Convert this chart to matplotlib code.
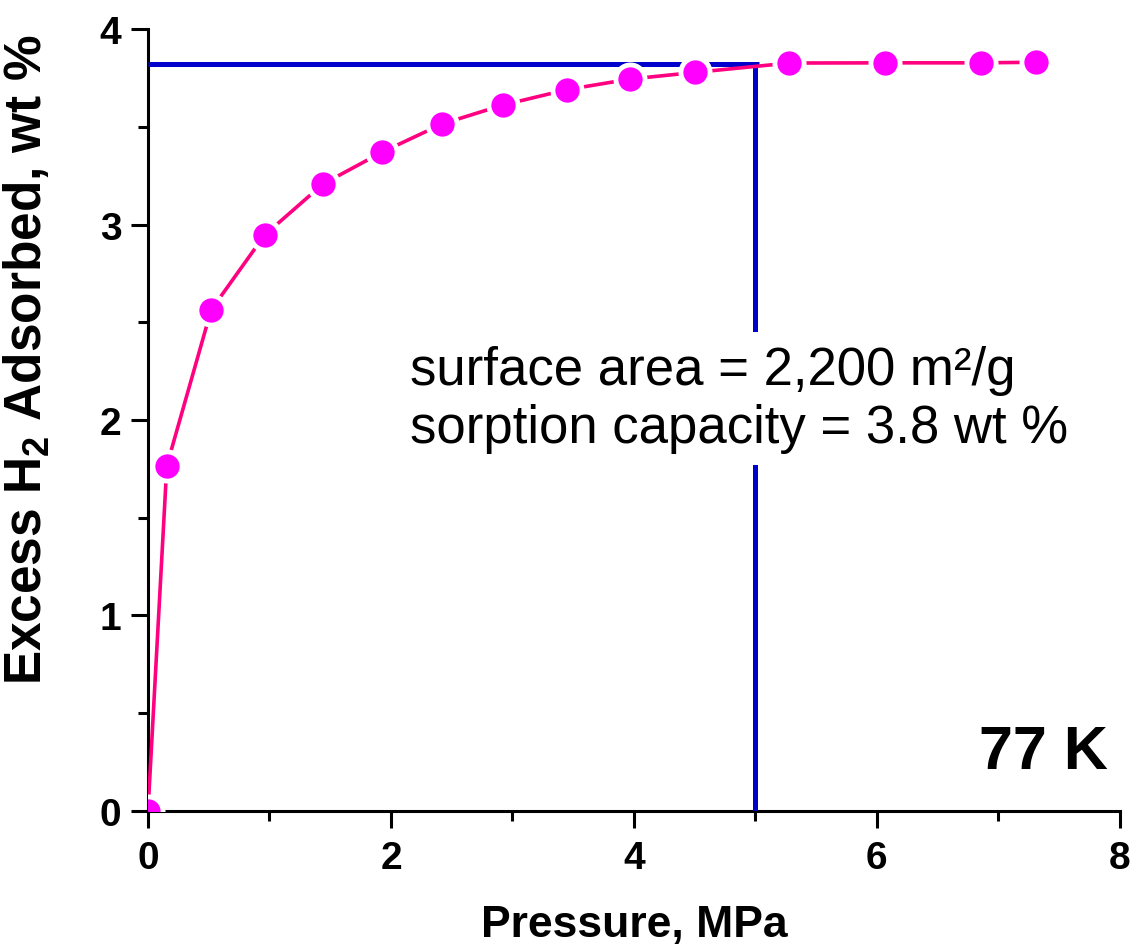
import numpy as np
import matplotlib
matplotlib.use("Agg")
import matplotlib.pyplot as plt
from matplotlib.ticker import MultipleLocator

plt.rcParams['font.family'] = ['Liberation Sans', 'DejaVu Sans']
plt.rcParams['mathtext.fontset'] = 'custom'
plt.rcParams['mathtext.rm'] = 'Liberation Sans'
plt.rcParams['mathtext.bf'] = 'Liberation Sans:bold'

# excess H2 uptake at 77 K
pressure = [0.0, 0.155, 0.52, 0.96, 1.44, 1.93, 2.42, 2.92, 3.45, 3.97, 4.50, 5.28, 6.07, 6.86, 7.31]
uptake = [0.0, 1.766, 2.563, 2.946, 3.207, 3.371, 3.514, 3.611, 3.690, 3.744, 3.778, 3.826, 3.827, 3.827, 3.830]

cap_pressure = 5.0
cap_uptake = 3.82

fig = plt.figure(figsize=(11.34, 9.53), dpi=100)
ax = fig.add_axes([0.1305, 0.148, 0.857, 0.8205])

blue = '#0000cc'
ax.plot([0, cap_pressure + 0.03], [cap_uptake, cap_uptake], color=blue, lw=3.6,
        solid_capstyle='butt', zorder=3)
ax.plot([cap_pressure, cap_pressure], [0, cap_uptake], color=blue, lw=3.6,
        solid_capstyle='butt', zorder=3)

ax.plot(pressure, uptake, color='#ff0080', lw=2.6, marker='o', ms=21,
        mfc='#ff00ff', mec='white', mew=3.5, zorder=4)

ax.text(0.27, 0.527, 'surface area = 2,200 m\u00b2/g\nsorption capacity = 3.8 wt %',
        transform=ax.transAxes, fontsize=38, ha='left', va='center',
        linespacing=1.2, zorder=3.5,
        bbox=dict(facecolor='white', edgecolor='none', pad=9))
ax.text(0.988, 0.075, '77 K', transform=ax.transAxes, fontsize=44,
        fontweight='bold', ha='right', va='center')

ax.set_xlim(0, 8)
ax.set_ylim(0, 4)
ax.xaxis.set_major_locator(MultipleLocator(2))
ax.xaxis.set_minor_locator(MultipleLocator(1))
ax.yaxis.set_major_locator(MultipleLocator(1))
ax.yaxis.set_minor_locator(MultipleLocator(0.5))

for s in ['top', 'right']:
    ax.spines[s].set_visible(False)
for s in ['left', 'bottom']:
    ax.spines[s].set_linewidth(2.2)

ax.tick_params(which='major', direction='out', length=12, width=2.2, labelsize=28)
ax.tick_params(which='minor', direction='out', length=7, width=2.2)
ax.tick_params(axis='x', which='major', pad=9)
ax.tick_params(axis='y', which='major', pad=7)
for lab in ax.get_xticklabels() + ax.get_yticklabels():
    lab.set_fontweight('bold')

ax.set_xlabel('Pressure, MPa', fontsize=32, fontweight='bold')
ax.set_ylabel(r'Excess H$_\mathbf{2}$ Adsorbed, wt %', fontsize=37, fontweight='bold')
ax.xaxis.set_label_coords(0.5, -0.119)
ax.yaxis.set_label_coords(-0.098, 0.579)

fig.savefig('out.png', dpi=100)
